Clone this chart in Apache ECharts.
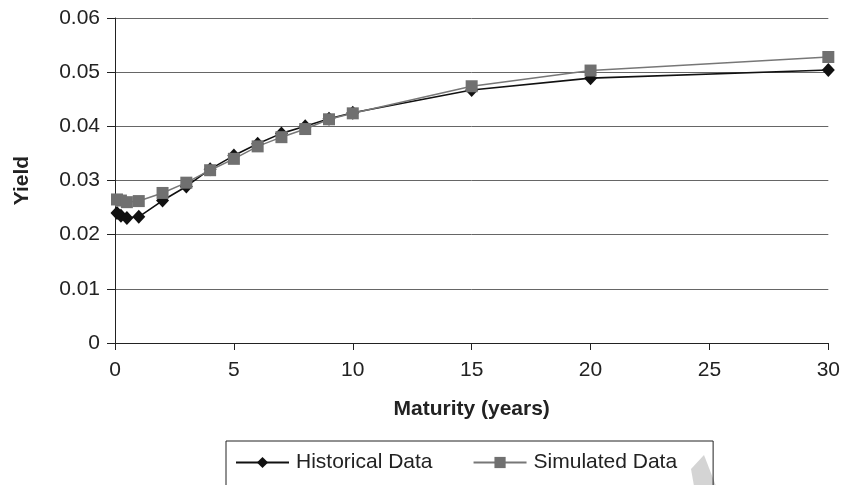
<!DOCTYPE html>
<html>
<head>
<meta charset="utf-8">
<script src="https://cdn.jsdelivr.net/npm/echarts@6/dist/echarts.min.js"></script>
<style>
  html, body { margin: 0; padding: 0; background: #fff; }
  #chart { width: 843px; height: 485px; }
</style>
</head>
<body>
<div id="chart"></div>
<script>
// Term structure: maturities in years
const maturities = [0.083, 0.25, 0.5, 1, 2, 3, 4, 5, 6, 7, 8, 9, 10, 15, 20, 30];
// Observed yields
const historicalYield = [0.0240, 0.0235, 0.0231, 0.0233, 0.0263, 0.0289, 0.0321, 0.0346, 0.0368, 0.0387, 0.0400, 0.0414, 0.0425, 0.0467, 0.0489, 0.0504];
// Model yields
const simulatedYield = [0.0265, 0.0263, 0.0260, 0.0262, 0.0277, 0.0296, 0.0319, 0.0340, 0.0363, 0.0380, 0.0395, 0.0413, 0.0424, 0.0474, 0.0503, 0.0528];

const seriesNames = ['Historical Data', 'Simulated Data'];

const pairs = (xs, ys) => xs.map((x, i) => [x, ys[i]]);
const FONT = '"Liberation Sans", Arial, sans-serif';

const chart = echarts.init(document.getElementById('chart'), null, { renderer: 'canvas' });

chart.setOption({
  animation: false,
  backgroundColor: '#ffffff',
  textStyle: { fontFamily: FONT },
  grid: { left: 115, right: 14, top: 18, bottom: 142, containLabel: false },
  xAxis: {
    type: 'value',
    min: 0, max: 30, interval: 5,
    name: 'Maturity (years)',
    nameLocation: 'middle',
    nameGap: 56,
    nameTextStyle: { fontFamily: FONT, fontSize: 21, fontWeight: 'bold', color: '#222' },
    axisLine: { show: true, lineStyle: { color: '#222', width: 1 } },
    axisTick: { show: true, inside: false, length: 7, lineStyle: { color: '#222' } },
    axisLabel: { fontFamily: FONT, fontSize: 21, color: '#222', margin: 17 },
    splitLine: { show: false }
  },
  yAxis: {
    type: 'value',
    min: 0, max: 0.06, interval: 0.01,
    name: 'Yield',
    nameLocation: 'middle',
    nameGap: 82,
    nameRotate: 90,
    nameTextStyle: { fontFamily: FONT, fontSize: 21, fontWeight: 'bold', color: '#222' },
    axisLine: { show: true, lineStyle: { color: '#222', width: 1 } },
    axisTick: { show: true, inside: false, length: 8, lineStyle: { color: '#222' } },
    axisLabel: { fontFamily: FONT, fontSize: 21, color: '#222', margin: 15 },
    splitLine: { show: true, lineStyle: { color: '#666', width: 1 } }
  },
  legend: {
    left: 226,
    top: 441,
    orient: 'horizontal',
    data: seriesNames,
    itemWidth: 53,
    itemHeight: 14,
    itemGap: 40,
    padding: [11, 36, 30, 9],
    borderColor: '#222',
    borderWidth: 1,
    textStyle: { fontFamily: FONT, fontSize: 21, color: '#222', padding: [0, 0, 0, 2] }
  },
  series: [
    {
      name: seriesNames[0],
      type: 'line',
      data: pairs(maturities, historicalYield),
      symbol: 'diamond',
      symbolSize: [13, 14],
      showAllSymbol: true,
      lineStyle: { color: '#111', width: 1.6 },
      itemStyle: { color: '#111' },
      z: 2
    },
    {
      name: seriesNames[1],
      type: 'line',
      data: pairs(maturities, simulatedYield),
      symbol: 'rect',
      symbolSize: 12,
      showAllSymbol: true,
      lineStyle: { color: '#777', width: 1.5 },
      itemStyle: { color: '#707070' },
      z: 3
    }
  ],
  graphic: [
    {
      type: 'polygon',
      shape: { points: [[704, 455], [691, 469], [694, 486], [716, 486]] },
      style: { fill: '#d4d4d4' },
      z: 1
    }
  ]
});
</script>
</body>
</html>
